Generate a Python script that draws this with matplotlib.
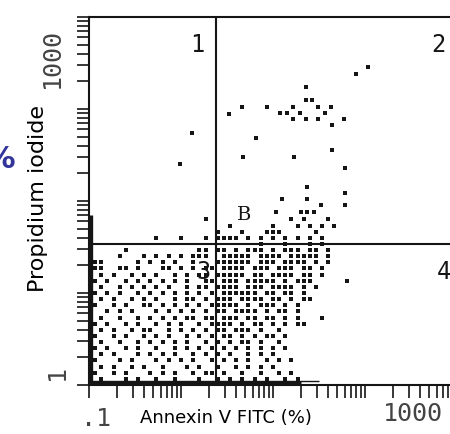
import numpy as np
import matplotlib.pyplot as plt
from matplotlib.ticker import LogLocator, NullFormatter

# ---- data (all positions in decades, log10 of channel) ----
# scattered events above the dense cloud (quadrants 1 and 2, upper part of B)
sparse_logx = [3.03, 2.90, 2.36, 2.36, 2.42, 1.52, 1.66, 1.93, 2.08, 2.15,
               2.22, 2.29, 2.22, 2.36, 2.49, 2.49, 2.57, 2.63, 2.77, 2.64,
               1.12, 0.99, 1.82, 1.67, 2.23, 2.64, 2.78, 2.37, 2.78, 2.10,
               2.37, 2.52, 2.78, 2.03, 2.30, 2.37, 2.45]
sparse_logy = [3.46, 3.38, 3.24, 3.10, 3.10, 2.95, 3.02, 3.02, 2.96, 2.96,
               3.02, 2.96, 2.89, 2.89, 3.02, 2.89, 2.96, 3.02, 2.89, 2.83,
               2.74, 2.40, 2.68, 2.48, 2.48, 2.55, 2.36, 2.15, 2.09, 2.02,
               2.02, 1.96, 1.96, 1.88, 1.88, 1.88, 1.88]

# dense cloud: dot matrix of the printout, one string per channel row
# (top row first), '#' = event, column/row pitch = 1/15 decade
grid_step = 1 / 15
grid_top_row = 27
cloud_rows = [
    "#......... .........# .......... ...#.#...# ...",
    ".......... .......... ...#...... #...#.#.#. #..",
    "#......... .......... .#...#...# ##.....#.. ...",
    ".......... .#...#...# .####.#.#. #.#.#.#.#. ...",
    ".......... .......... ........#. ..#...#.#. ...",
    "......#... ........## .##.#.###. #.###.##.# ...",
    ".....#...# .#.#.#.### ..#####.## ##.#####.# ...",
    ".##.....#. #.#.#..#.. .######.## #.####.#.# ...",
    ".##..##.#. ..##.#.#.# #.####.### .###.##.#. ...",
    "..#.#..#.# .#..#.#.## .#####.##. ####.##.#. ...",
    ".#.#..#.#. #.#.#.#..# #.###.#### #.#.###... ..#",
    "..#..#.#.# .#.#..#.## .####.###. ####.#.#.. ...",
    ".#.#.#..#. #.#.#.#.#. #.######.# #.##.#.... ...",
    "..#.#..#.# .#..#.##.# .###.####. ##.#.##... ...",
    ".#..#.#..# #.#.#.#.#. #####.#.## #.#.#..... ...",
    "#..#.#.#.. .#.#.#.#.# .##.####.# .##.#..... ...",
    "..#..#..#. #.#.#.##.# #.###.##.# #.#.#...#. ...",
    ".#.#..#.#. .#.#.#..#. ####.#.##. #.#.##.... ...",
    "..#.#..#.# #..#.#.#.# .##.###.#. .#........ ...",
    ".#..#.#..# .#.#..#.#. #.##.#.#.# #.#....... ...",
    "..#..#..#. #.#.#.#..# .#.#.##.#. .#........ ...",
    ".#.#..#.#. .#..#.#.#. #.#.#.#.#. #.#....... ...",
    "..#.#...#. #.#.#..#.# .#.#..#.#. #......... ...",
    ".#...#.#.. .#.#.#.#.. #.#.#.#..# .#.#...... ...",
    "..#.#..#.# ..#...#.#. .#..#.#.#. #......... ...",
    ".#..#.#... #.#.#..#.# #.#..#..#. .#.#...... ...",
    "..#...#.#. .#..#...#. .#.#.#.#.# ..#.#..... ...",
]

# events piled up on the lowest channels (edges of the plot)
bottom_pile_end = 10 ** 2.3
bottom_pile_tail = 10 ** 2.5
left_pile_top = 10 ** 1.85

# quadrant markers
quad_x = 24
quad_y = 34

# ---- build cloud coordinates ----
cloud_x, cloud_y = [], []
for i, row in enumerate(cloud_rows):
    row = row.replace(" ", "")
    r = grid_top_row - i
    for c, ch in enumerate(row):
        if ch == "#":
            cloud_x.append(10 ** (c * grid_step))
            cloud_y.append(10 ** (r * grid_step))

W, H = 450, 434
fig = plt.figure(figsize=(W / 100, H / 100), dpi=100)
ax = fig.add_axes([89 / W, (H - 385) / H, 368 / W, 368 / H])

ink = "#151515"
ax.scatter(cloud_x, cloud_y, s=5.5, marker="s", color=ink, linewidths=0)
ax.scatter(10 ** np.array(sparse_logx), 10 ** np.array(sparse_logy),
           s=5, marker="s", color=ink, linewidths=0)

# pile-up bands along the axes
ax.plot([1, bottom_pile_end], [10 ** 0.025] * 2, color=ink, lw=2.4,
        solid_capstyle="butt", clip_on=False)
ax.plot([1, bottom_pile_tail], [10 ** 0.045] * 2, color=ink, lw=1.0,
        solid_capstyle="butt", clip_on=False)
ax.plot([10 ** 0.02] * 2, [1, left_pile_top], color=ink, lw=2.4,
        solid_capstyle="butt", clip_on=False)

# quadrant lines
ax.axvline(quad_x, color=ink, lw=1.5)
ax.axhline(quad_y, color=ink, lw=1.5)

ax.set_xscale("log")
ax.set_yscale("log")
ax.set_xlim(1, 1e4)
ax.set_ylim(1, 1e4)
for axis in (ax.xaxis, ax.yaxis):
    axis.set_major_locator(LogLocator(base=10))
    axis.set_minor_locator(LogLocator(base=10, subs=np.arange(2, 10)))
    axis.set_major_formatter(NullFormatter())
    axis.set_minor_formatter(NullFormatter())
ax.tick_params(which="both", direction="out", length=9, width=1.2,
               color=ink, top=False, right=False)
for s in ax.spines.values():
    s.set_linewidth(1.5)
    s.set_color(ink)

# quadrant numbers
def ftxt(x, y, s, **kw):
    fig.text(x / W, 1 - y / H, s, ha="center", va="center", **kw)

ftxt(197, 45, "1", fontsize=17, family="DejaVu Sans Mono", color=ink)
ftxt(438, 45, "2", fontsize=17, family="DejaVu Sans Mono", color=ink)
ftxt(203, 272, "3", fontsize=17, family="DejaVu Sans Mono", color=ink)
ftxt(444, 272, "4", fontsize=17, family="DejaVu Sans Mono", color=ink)
ftxt(244, 215, "B", fontsize=14, family="DejaVu Serif", color=ink)

# printed tick labels of the scan
ftxt(52, 58, "1000", fontsize=18, family="DejaVu Sans Mono", color="#444444",
     rotation=90)
ftxt(57, 372, "1", fontsize=18, family="DejaVu Sans Mono", color="#444444",
     rotation=90)
ftxt(96, 419, ".1", fontsize=18, family="DejaVu Sans Mono", color="#444444")
fig.text(383 / W, 1 - 414 / H, "1000", ha="left", va="center", fontsize=18,
         family="DejaVu Sans Mono", color="#444444")

# axis titles
ftxt(226, 418, "Annexin V FITC (%)", fontsize=13, color="black")
ftxt(38, 198, "Propidium iodide", fontsize=16, color="black", rotation=90)
fig.text(16 / W, 1 - 160 / H, "%", ha="right", va="center", fontsize=22,
         fontweight="bold", color="#33359a")

fig.savefig("out.png", dpi=100)
